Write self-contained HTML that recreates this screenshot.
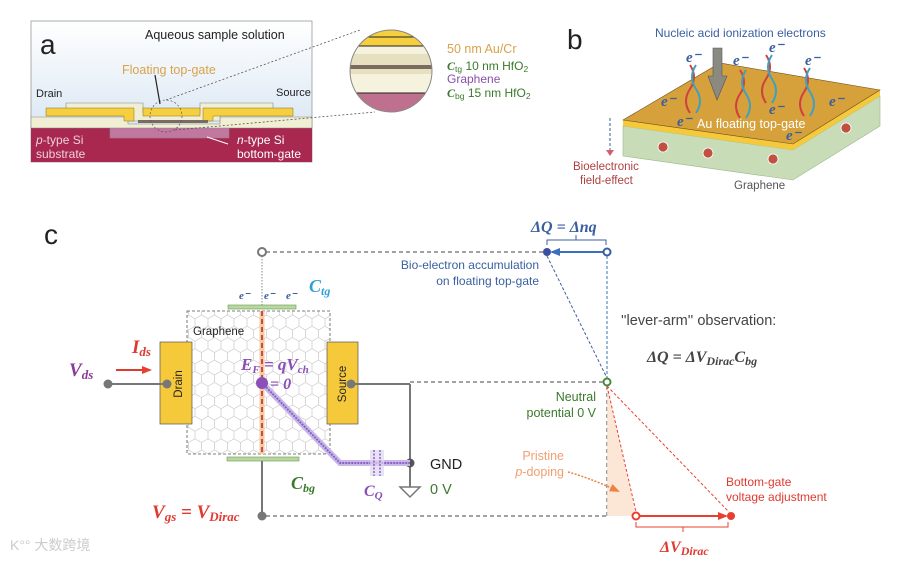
<!DOCTYPE html>
<html><head><meta charset="utf-8"><style>
html,body{margin:0;padding:0;background:#fff}
svg{display:block;font-family:"Liberation Sans","Noto Sans CJK SC",sans-serif}
.s{font-family:"Liberation Serif",serif;font-style:italic;font-weight:bold}
</style></head><body>
<svg width="923" height="565" viewBox="0 0 923 565" xmlns="http://www.w3.org/2000/svg">
<defs>
<linearGradient id="aq" x1="0" y1="0" x2="0" y2="1"><stop offset="0" stop-color="#fff"/><stop offset="1" stop-color="#cfe0f0"/></linearGradient>
<pattern id="hex" width="13" height="22.5" patternUnits="userSpaceOnUse"><path d="M0 3.75 L6.5 0 L13 3.75 L13 11.25 L6.5 15 L0 11.25 Z M6.5 15 L6.5 22.5" fill="none" stroke="#c8c8c8" stroke-width="0.7"/></pattern>
<marker id="ab" markerUnits="userSpaceOnUse" markerWidth="10" markerHeight="10" refX="8" refY="5" orient="auto"><path d="M0 1 L10 5 L0 9Z" fill="#3a6fc0"/></marker>
<marker id="ar" markerUnits="userSpaceOnUse" markerWidth="10" markerHeight="10" refX="8" refY="5" orient="auto"><path d="M0 1 L10 5 L0 9Z" fill="#e84030"/></marker>
<marker id="ao" markerUnits="userSpaceOnUse" markerWidth="10" markerHeight="10" refX="8" refY="5" orient="auto"><path d="M0 1 L10 5 L0 9Z" fill="#f08040"/></marker>
</defs>

<!-- Panel a -->
<rect x="31" y="21" width="281" height="141" fill="url(#aq)" stroke="#999" stroke-width="0.8"/>
<rect x="31" y="128" width="281" height="34" fill="#a8284f"/>
<rect x="110" y="125" width="119" height="13" fill="#c277a0" stroke="#888" stroke-width="0.6"/>
<path d="M31 117 H128 V124 H220 V117 H312 V128 H31Z" fill="#f1efd3" stroke="#888" stroke-width="0.6"/>
<path d="M66 103 H143 V113 H200 V103 H273 V110 H220 V121 H128 V110 H66Z" fill="#f1efd3" stroke="#888" stroke-width="0.6"/>
<path d="M46 108 H134 V121 H124 V116 H46Z" fill="#f5cf40" stroke="#8a7020" stroke-width="0.5"/>
<path d="M293 108 H203 V121 H213 V116 H293Z" fill="#f5cf40" stroke="#8a7020" stroke-width="0.5"/>
<rect x="143" y="108" width="57" height="8" fill="#f5cf40" stroke="#8a7020" stroke-width="0.5"/>
<rect x="138" y="120" width="70" height="3" fill="#7a6a60"/>
<circle cx="166" cy="116" r="16" fill="none" stroke="#555" stroke-dasharray="2,2" stroke-width="0.7"/>
<line x1="166" y1="100" x2="360" y2="30" stroke="#555" stroke-dasharray="2,2" stroke-width="0.8"/>
<line x1="175" y1="130" x2="375" y2="112" stroke="#555" stroke-dasharray="2,2" stroke-width="0.8"/>
<line x1="155" y1="75" x2="160" y2="104" stroke="#222" stroke-width="1.2"/>
<text x="40" y="54" font-size="28" fill="#222">a</text>
<text x="145" y="39" font-size="12.5" fill="#222">Aqueous sample solution</text>
<text x="122" y="74" font-size="12.5" fill="#d9a24a">Floating top-gate</text>
<text x="36" y="97" font-size="11" fill="#222">Drain</text>
<text x="276" y="96" font-size="11" fill="#222">Source</text>
<text x="36" y="144" font-size="12" fill="#f0d0da"><tspan font-style="italic">p</tspan>-type Si</text>
<text x="36" y="158" font-size="12" fill="#f0d0da">substrate</text>
<text x="237" y="144" font-size="12" fill="#fff"><tspan font-style="italic">n</tspan>-type Si</text>
<text x="237" y="158" font-size="12" fill="#fff">bottom-gate</text>
<line x1="228" y1="144" x2="207" y2="137" stroke="#fff" stroke-width="1"/>
<clipPath id="cc"><circle cx="391" cy="71" r="41"/></clipPath>
<g clip-path="url(#cc)">
<rect x="340" y="20" width="110" height="110" fill="#f5f2de"/>
<rect x="340" y="20" width="110" height="26" fill="#f5cf40"/>
<rect x="340" y="54" width="110" height="20" fill="#e6e0c0"/>
<rect x="340" y="65" width="110" height="4" fill="#7a6a60"/>
<rect x="340" y="93" width="110" height="40" fill="#c0708f"/>
<line x1="340" y1="46" x2="450" y2="46" stroke="#222"/><line x1="340" y1="93" x2="450" y2="93" stroke="#222"/><line x1="340" y1="37" x2="450" y2="37" stroke="#222"/>
</g>
<circle cx="391" cy="71" r="41" fill="none" stroke="#888"/>
<text x="418" y="57" font-size="12.5" fill="#d9a24a" transform="translate(0,0)"></text>
<text x="447" y="53" font-size="12.5" fill="#d9a24a">50 nm Au/Cr</text>
<text x="418" y="71" font-size="12" fill="#3a7a2a" transform="translate(0,0)"></text>
<text x="418" y="71" font-size="12" fill="#3a7a2a"></text>
<text x="418" y="71"></text>
<text x="419" y="71"></text>
<text x="419" y="71" font-size="12" fill="#3a7a2a" x="419"></text>
<text x="419" y="71" font-size="12" fill="#3a7a2a"></text>
<text x="418" y="71" font-size="12" fill="#3a7a2a"></text>
<text x="419" y="71" font-size="12" fill="#3a7a2a"></text>
<text x="418" y="71"></text>
<text x="418" y="72" font-size="12" fill="#3a7a2a"><tspan x="418"></tspan></text>
<text x="418" y="71" font-size="12" fill="#3a7a2a"><tspan x="418"></tspan></text>
<text x="419" y="71" font-size="12" fill="#3a7a2a"><tspan></tspan></text>
<text x="418" y="71" font-size="12" fill="#3a7a2a"></text>
<text x="418" y="71" font-size="12"></text>
<text x="419" y="71" font-size="12" fill="#3a7a2a"></text>
<text x="418" y="71" font-size="12" fill="#3a7a2a"></text>
<text x="418" y="71" font-size="12" fill="#3a7a2a"></text>
<text x="419" y="71" font-size="12" fill="#3a7a2a"></text>
<text x="419" y="71" font-size="12" fill="#3a7a2a"></text>
<text x="418" y="71" font-size="12" fill="#3a7a2a"></text>
<text x="418" y="71" font-size="12" fill="#3a7a2a"></text>
<text x="418" y="71" font-size="12" fill="#3a7a2a"></text>
<text x="418" y="71" font-size="12" fill="#3a7a2a"></text>
<text x="418" y="71" font-size="12" fill="#3a7a2a"></text>
<text x="418" y="71" font-size="12" fill="#3a7a2a"></text>
<text x="418" y="71" font-size="12" fill="#3a7a2a"></text>
<text x="419" y="71" font-size="12" fill="#3a7a2a"></text>
<text x="447" y="70" font-size="12" fill="#3a7a2a"><tspan class="s">C</tspan><tspan font-size="8.5" dy="2">tg</tspan><tspan dy="-2"> 10 nm HfO</tspan><tspan font-size="8.5" dy="2">2</tspan></text>
<text x="447" y="83" font-size="12" fill="#8a50a8">Graphene</text>
<text x="447" y="97" font-size="12" fill="#3a7a2a"><tspan class="s">C</tspan><tspan font-size="8.5" dy="2">bg</tspan><tspan dy="-2"> 15 nm HfO</tspan><tspan font-size="8.5" dy="2">2</tspan></text>

<!-- Panel b -->
<text x="567" y="49" font-size="28" fill="#222">b</text>
<text x="655" y="37" font-size="12" fill="#3a5fa0">Nucleic acid ionization electrons</text>
<polygon points="623,126 793,150 880,96 880,126 793,180 623,156" fill="#c8dcb8" stroke="#9ab88a" stroke-width="0.6"/>
<polygon points="623,120 793,144 880,90 880,96 793,150 623,126" fill="#f5c93a"/>
<polygon points="623,120 720,63 880,90 793,144" fill="#d6a03a" stroke="#6a5020" stroke-width="0.6"/>
<g fill="#c05040" stroke="#fff" stroke-width="0.8"><circle cx="708" cy="153" r="5"/><circle cx="773" cy="159" r="5"/><circle cx="846" cy="128" r="5"/><circle cx="663" cy="147" r="5"/></g>
<polygon points="713,48 722,48 722,76 727,76 717,100 708,76 713,76" fill="#8a8a80" stroke="#556" stroke-width="0.6"/>
<g stroke-width="2" fill="none">
<path d="M690 65 q8 12 0 24 q-8 12 0 24" stroke="#d04040"/><path d="M696 65 q-8 12 0 24 q8 12 0 24" stroke="#40a0c0"/>
<path d="M740 70 q8 12 0 24 q-8 12 0 24" stroke="#d04040"/><path d="M746 70 q-8 12 0 24 q8 12 0 24" stroke="#40a0c0"/>
<path d="M766 55 q8 12 0 24 q-8 12 0 24" stroke="#d04040"/><path d="M772 55 q-8 12 0 24 q8 12 0 24" stroke="#40a0c0"/>
<path d="M804 68 q8 12 0 24 q-8 12 0 24" stroke="#d04040"/><path d="M810 68 q-8 12 0 24 q8 12 0 24" stroke="#40a0c0"/>
</g>
<g class="s" font-size="15" fill="#3a5fa0">
<text x="686" y="62">e⁻</text><text x="733" y="65">e⁻</text><text x="769" y="52">e⁻</text><text x="805" y="65">e⁻</text>
<text x="661" y="106">e⁻</text><text x="769" y="114">e⁻</text><text x="829" y="106">e⁻</text><text x="677" y="126">e⁻</text><text x="786" y="140">e⁻</text>
</g>
<text x="697" y="128" font-size="12.5" fill="#fff">Au floating top-gate</text>
<line x1="610" y1="118" x2="610" y2="150" stroke="#3a5fa0" stroke-dasharray="3,2"/>
<polygon points="606,150 614,150 610,156" fill="#d06070"/>
<text x="573" y="170" font-size="11.5" fill="#b04040">Bioelectronic</text>
<text x="580" y="184" font-size="11.5" fill="#b04040">field-effect</text>
<text x="734" y="189" font-size="11.5" fill="#555">Graphene</text>

<!-- Panel c -->
<text x="44" y="244" font-size="28" fill="#222">c</text>
<rect x="187" y="311" width="143" height="143" fill="url(#hex)" stroke="#555" stroke-dasharray="3,2" stroke-width="0.8"/>
<text x="193" y="335" font-size="11.5" fill="#222">Graphene</text>
<rect x="228" y="305" width="68" height="4" fill="#b8d8a0" stroke="#6a9a50" stroke-width="0.6"/>
<rect x="227" y="457" width="72" height="4" fill="#b8d8a0" stroke="#6a9a50" stroke-width="0.6"/>
<line x1="262" y1="256" x2="262" y2="305" stroke="#888" stroke-dasharray="1.5,1.5"/>
<line x1="262" y1="311" x2="262" y2="454" stroke="#f8c8a0" stroke-width="5"/>
<line x1="262" y1="311" x2="262" y2="454" stroke="#c05050" stroke-width="2" stroke-dasharray="5,3"/>
<g class="s" font-size="11" fill="#3a5fa0"><text x="239" y="299">e⁻</text><text x="264" y="299">e⁻</text><text x="286" y="299">e⁻</text></g>
<text x="309" y="292" class="s" font-size="18" fill="#30a0d8">C<tspan font-size="12" dy="3">tg</tspan></text>
<rect x="160" y="342" width="32" height="82" fill="#f5c93a" stroke="#555" stroke-width="0.7"/>
<rect x="327" y="342" width="31" height="82" fill="#f5c93a" stroke="#555" stroke-width="0.7"/>
<text transform="translate(182,384) rotate(-90)" text-anchor="middle" font-size="11.5" fill="#222">Drain</text>
<text transform="translate(346,384) rotate(-90)" text-anchor="middle" font-size="11.5" fill="#222">Source</text>
<line x1="108" y1="384" x2="167" y2="384" stroke="#777" stroke-width="2"/>
<circle cx="108" cy="384" r="4.5" fill="#777"/><circle cx="167" cy="384" r="4.5" fill="#777"/>
<line x1="351" y1="384" x2="410" y2="384" stroke="#777" stroke-width="2"/>
<line x1="410" y1="384" x2="410" y2="487" stroke="#777" stroke-width="2"/>
<circle cx="351" cy="384" r="4.5" fill="#777"/><circle cx="410" cy="463" r="4.5" fill="#555"/>
<path d="M400 487 H420 L410 497Z" fill="#fff" stroke="#777" stroke-width="1.5"/>
<line x1="262" y1="461" x2="262" y2="516" stroke="#777" stroke-width="2"/>
<circle cx="262" cy="516" r="4.5" fill="#777"/>
<polyline points="262,383 340,463 410,463" fill="none" stroke="#c8b8e8" stroke-width="6"/>
<polyline points="262,383 340,463 410,463" fill="none" stroke="#8a60c8" stroke-width="2" stroke-dasharray="2,1"/>
<rect x="370" y="450" width="14" height="26" fill="#e0d4f0" opacity="0.7"/>
<line x1="374" y1="450" x2="374" y2="476" stroke="#8a60c8" stroke-dasharray="2,1.5" stroke-width="1.5"/>
<line x1="380" y1="450" x2="380" y2="476" stroke="#8a60c8" stroke-dasharray="2,1.5" stroke-width="1.5"/>
<circle cx="262" cy="383" r="6" fill="#8a50b8"/>
<text x="241" y="370" class="s" font-size="17" fill="#8a50b8">E<tspan font-size="11" dy="3">F</tspan><tspan dy="-3"> = qV</tspan><tspan font-size="11" dy="3">ch</tspan></text>
<text x="270" y="389" class="s" font-size="16" fill="#8a50b8">= 0</text>
<text x="69" y="376" class="s" font-size="19" fill="#8a3a9a">V<tspan font-size="13" dy="3">ds</tspan></text>
<text x="132" y="353" class="s" font-size="19" fill="#e03a30">I<tspan font-size="13" dy="3">ds</tspan></text>
<line x1="116" y1="370" x2="150" y2="370" stroke="#e03a30" stroke-width="2" marker-end="url(#ar)"/>
<text x="291" y="489" class="s" font-size="18" fill="#3a7a2a">C<tspan font-size="12" dy="3">bg</tspan></text>
<text x="364" y="496" class="s" font-size="16" fill="#8a50b8">C<tspan font-size="11" dy="3">Q</tspan></text>
<text x="430" y="469" font-size="14.5" fill="#222">GND</text>
<text x="430" y="494" font-size="14.5" fill="#3a7a2a">0 V</text>
<text x="152" y="518" class="s" font-size="19" fill="#e03a30">V<tspan font-size="13" dy="3">gs</tspan><tspan dy="-3"> = V</tspan><tspan font-size="13" dy="3">Dirac</tspan></text>

<!-- dashed connectors -->
<g stroke="#444" stroke-width="1" stroke-dasharray="4,3" fill="none">
<line x1="266" y1="252" x2="543" y2="252"/>
<line x1="410" y1="382" x2="603" y2="382"/>
<line x1="266" y1="516" x2="607" y2="516"/>
<line x1="607" y1="386" x2="607" y2="516"/>
</g>
<circle cx="262" cy="252" r="4" fill="#fff" stroke="#777" stroke-width="2"/>
<polygon points="607,386 636,516 607,516" fill="#fbe0cc" opacity="0.8"/>
<line x1="607" y1="256" x2="607" y2="378" stroke="#3a6fc0" stroke-dasharray="3,2"/>
<line x1="547" y1="256" x2="607" y2="378" stroke="#3a5fa0" stroke-dasharray="3,2"/>
<line x1="607" y1="386" x2="636" y2="512" stroke="#e84030" stroke-dasharray="3,2"/>
<line x1="607" y1="386" x2="729" y2="512" stroke="#e84030" stroke-dasharray="3,2"/>
<line x1="603" y1="252" x2="552" y2="252" stroke="#3a6fc0" stroke-width="2" marker-end="url(#ab)"/>
<circle cx="547" cy="252" r="4" fill="#3a4fa0"/>
<circle cx="607" cy="252" r="3.5" fill="#fff" stroke="#3a5fa0" stroke-width="2"/>
<circle cx="607" cy="382" r="3.5" fill="#fff" stroke="#4a8a3a" stroke-width="2"/>
<line x1="640" y1="516" x2="726" y2="516" stroke="#e84030" stroke-width="2" marker-end="url(#ar)"/>
<circle cx="636" cy="516" r="3.5" fill="#fff" stroke="#e84030" stroke-width="2"/>
<circle cx="731" cy="516" r="4" fill="#e84030"/>
<path d="M547 245 V240 H576 V235 M576 240 H606 V245" fill="none" stroke="#3a5fa0"/>
<path d="M636 522 V527 H683 V532 M683 527 H728 V522" fill="none" stroke="#e84030"/>
<text x="531" y="232" class="s" font-size="16" fill="#3a5fa0">ΔQ = Δnq</text>
<text x="539" y="269" text-anchor="end" font-size="12" fill="#3a5fa0">Bio-electron accumulation</text>
<text x="539" y="285" text-anchor="end" font-size="12" fill="#3a5fa0">on floating top-gate</text>
<text x="621" y="325" font-size="14.5" fill="#444">''lever-arm'' observation:</text>
<text x="647" y="362" class="s" font-size="16" fill="#444" font-style="normal">ΔQ = ΔV<tspan font-size="12" dy="3">Dirac</tspan><tspan dy="-3">C</tspan><tspan font-size="12" dy="3">bg</tspan></text>
<text x="596" y="401" text-anchor="end" font-size="12.5" fill="#3a7a2a">Neutral</text>
<text x="596" y="417" text-anchor="end" font-size="12.5" fill="#3a7a2a">potential 0 V</text>
<text x="564" y="460" text-anchor="end" font-size="12.5" fill="#f0a070">Pristine</text>
<text x="564" y="476" text-anchor="end" font-size="12.5" fill="#f0a070"><tspan font-style="italic">p</tspan>-doping</text>
<path d="M568 472 Q590 478 618 491" fill="none" stroke="#f08040" stroke-dasharray="2,1.5" stroke-width="1.5" marker-end="url(#ao)"/>
<text x="726" y="486" font-size="12" fill="#e03a30">Bottom-gate</text>
<text x="726" y="501" font-size="12" fill="#e03a30">voltage adjustment</text>
<text x="660" y="552" class="s" font-size="16" fill="#e03a30">ΔV<tspan font-size="12" dy="3">Dirac</tspan></text>
<text x="10" y="550" font-size="14" fill="#ccc">K°° 大数跨境</text>
</svg>
</body></html>
